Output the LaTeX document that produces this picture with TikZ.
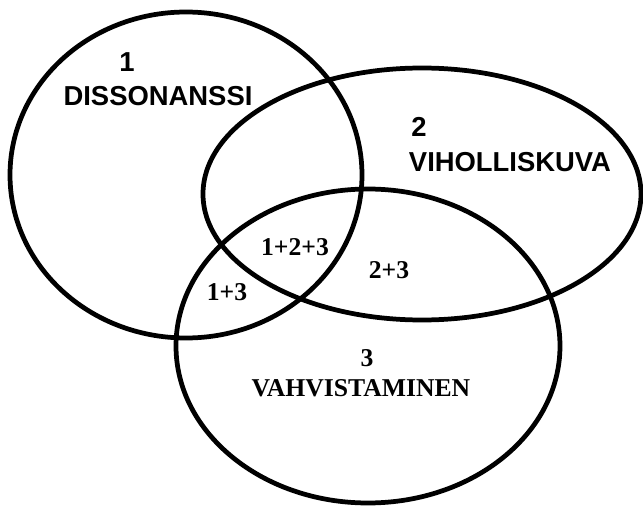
\documentclass[tikz,border=0pt]{standalone}
\usepackage{fontspec}
\usepackage{tikz}
\newfontfamily\sanslbl{Liberation Sans}
\newfontfamily\seriflbl{Liberation Serif}
\tikzset{ring/.style={line width=2.7pt}, sans/.style={font=\sanslbl\bfseries\fontsize{15.6}{16}\selectfont, inner sep=0pt}, serif/.style={font=\seriflbl\bfseries\fontsize{14.6}{16}\selectfont, inner sep=0pt}}

\begin{document}
\begin{tikzpicture}
  \useasboundingbox (0,0) rectangle (12.86,10.12);
  \draw[ring] (3.72,6.62) ellipse (3.52 and 3.26); \draw[ring] (8.44,6.24) ellipse (4.38 and 2.52); \draw[ring] (7.36,3.2) ellipse (3.84 and 3.14);
  \node[sans] (one) at (2.54,8.88) {1}; \node[sans] (diss) at (3.16,8.2) {DISSONANSSI};
  \node[sans] (two) at (8.38,7.58) {2}; \node[sans] (vih) at (10.2,6.88) {VIHOLLISKUVA};
  \node[serif] (all) at (5.9,5.18) {1+2+3}; \node[serif] (twothree) at (7.78,4.72) {2+3}; \node[serif] (onethree) at (4.54,4.28) {1+3};
  \node[serif] (three) at (7.34,2.96) {3}; \node[serif] (vahv) at (7.22,2.36) {VAHVISTAMINEN};
\end{tikzpicture}
\end{document}
